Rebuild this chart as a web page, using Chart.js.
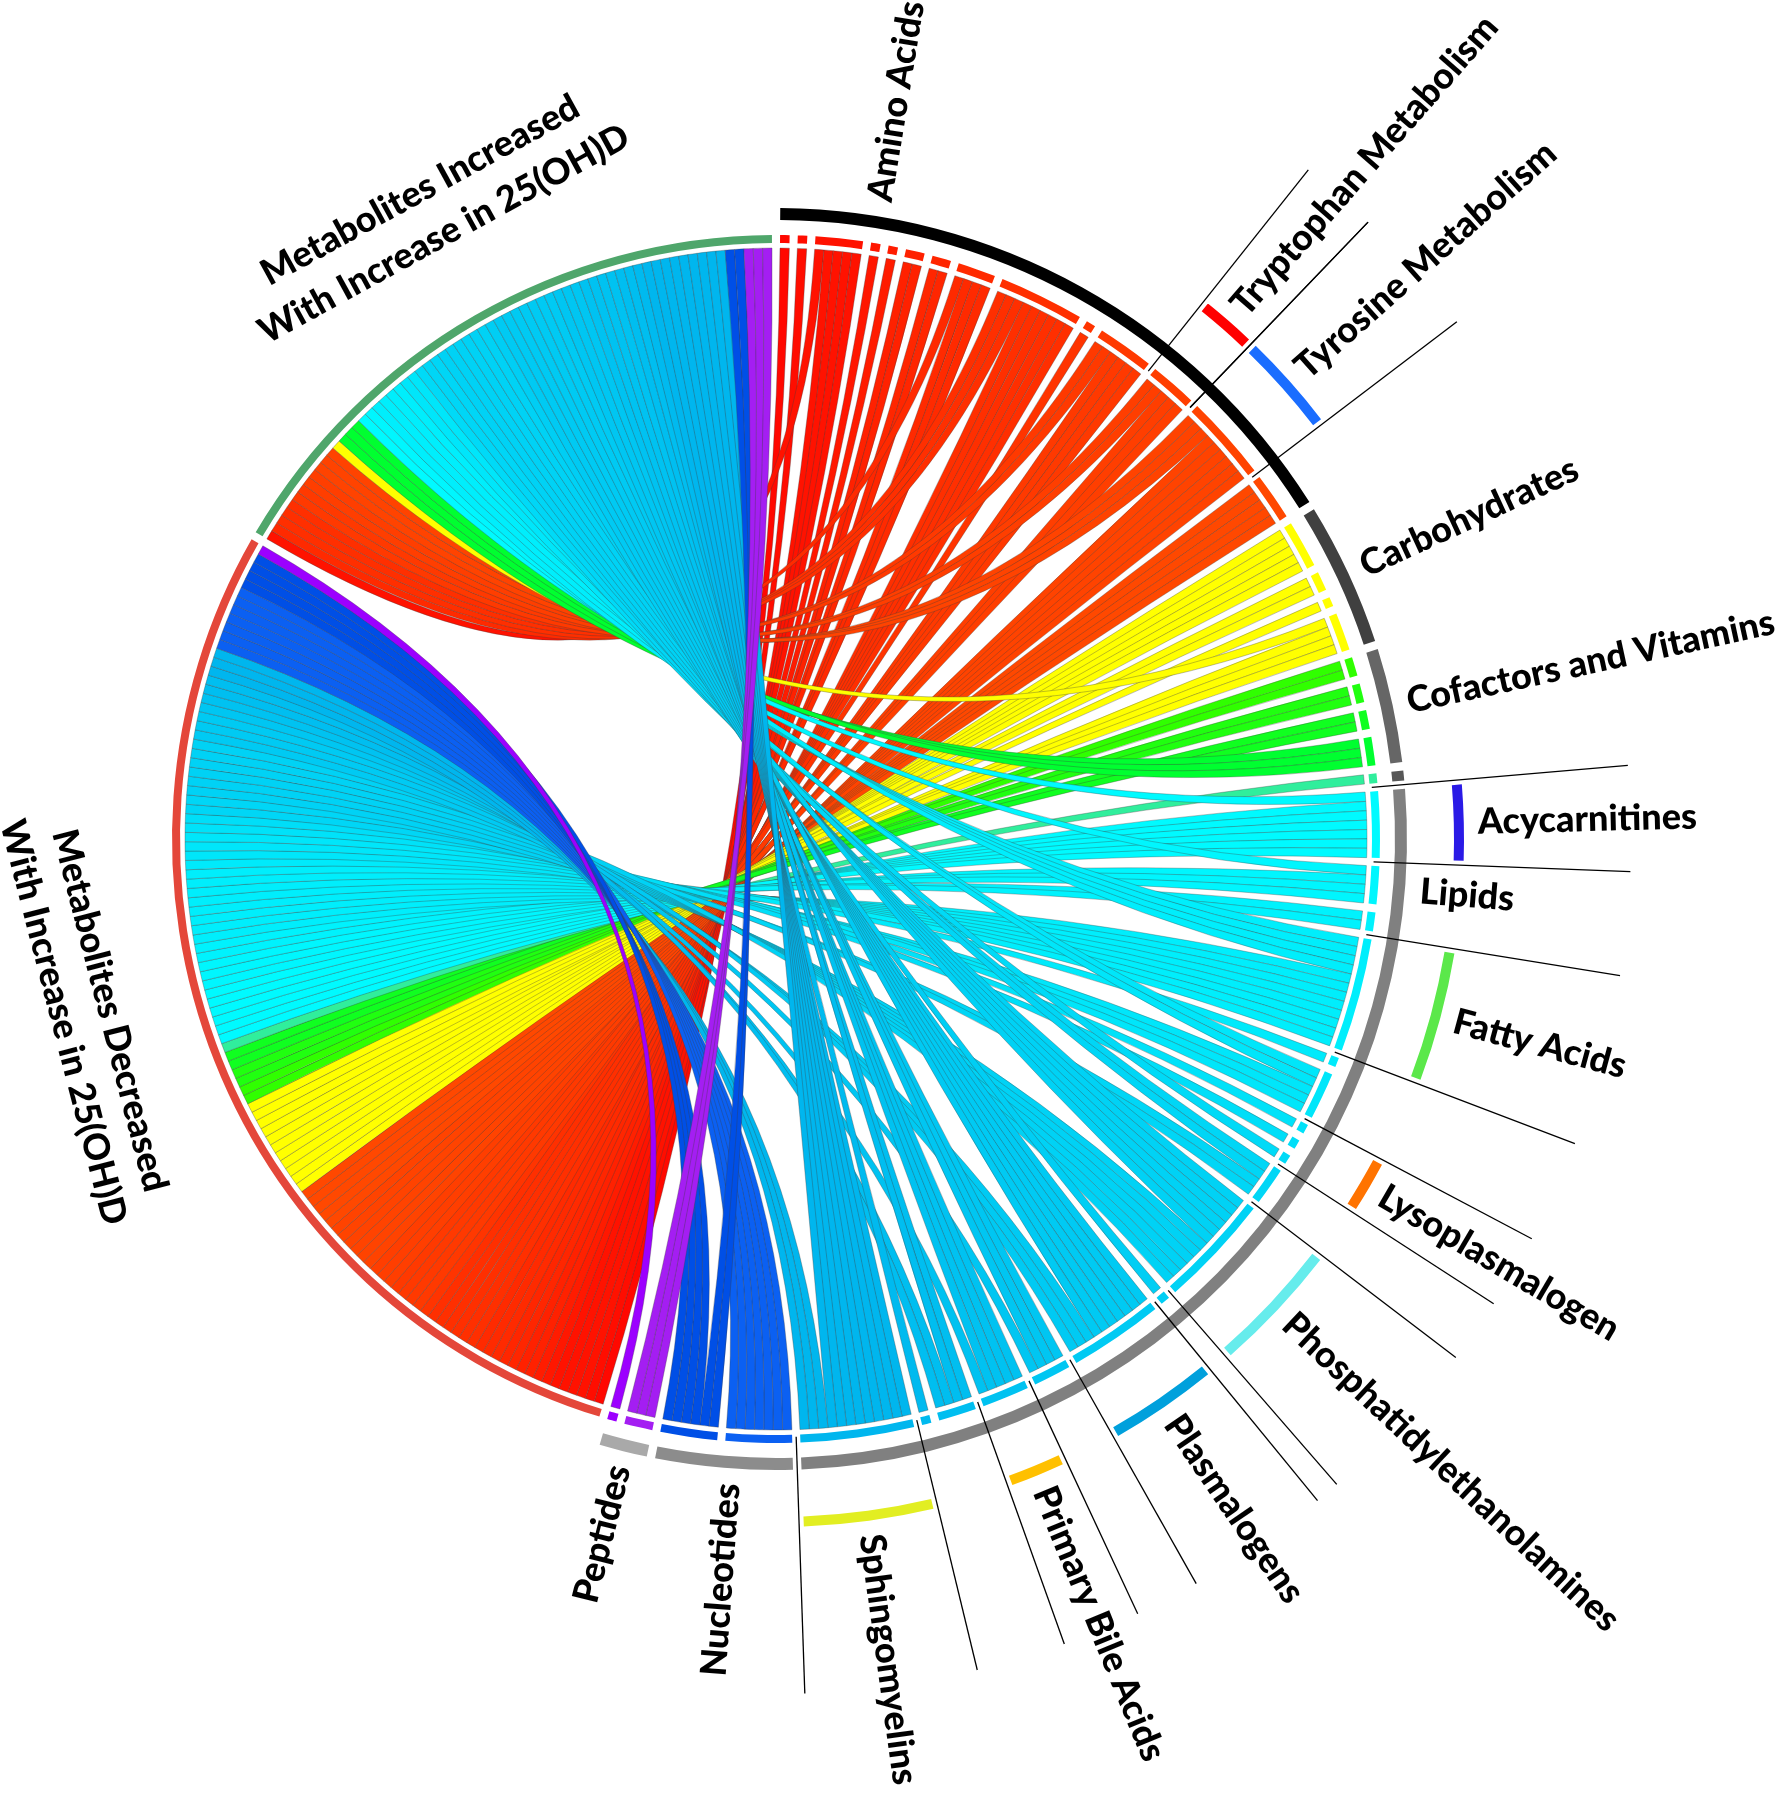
<!DOCTYPE html>
<html lang="en">
<head>
<meta charset="UTF-8">
<title>Metabolites and 25(OH)D</title>
<script src="https://cdn.jsdelivr.net/npm/chart.js@4.4.1/dist/chart.umd.min.js"></script>
<style>
  body { margin: 0; background: #fff; }
  canvas { display: block; }
</style>
</head>
<body>
<canvas id="chord" width="1782" height="1800"></canvas>
<script>
// metabolite classes on the right half, clockwise from 12 o'clock
const categories = ['Amino Acids', 'Carbohydrates', 'Cofactors and Vitamins', '', 'Lipids', 'Nucleotides', 'Peptides'];
const sources = [
  ['Metabolites Decreased', 'With Increase in 25(OH)D'],
  ['Metabolites Increased', 'With Increase in 25(OH)D']
];

// sub-pathway groups, clockwise, with the class they belong to
const groupCategory = [0, 0, 0, 0, 1, 2, 3, 4, 4, 4, 4, 4, 4, 4, 4, 4, 4, 4, 4, 4, 5, 6];
const groupLabels = ['', 'Tryptophan Metabolism', 'Tyrosine Metabolism', '', '', '', '',
  'Acycarnitines', '', 'Fatty Acids', '', 'Lysoplasmalogen', '', 'Phosphatidylethanolamines', '',
  'Plasmalogens', '', 'Primary Bile Acids', '', 'Sphingomyelins', '', ''];

// metabolites in each block of a group: decreased / increased with 25(OH)D
const groupDown = [[1, 1, 4, 1, 1, 2, 2, 3, 6, 1, 4], [3], [6], [5], [5, 2, 1, 3], [2, 2, 2, 0], [1],
  [6], [3, 2], [8], [1, 3], [1, 1, 0], [2], [6], [0], [3], [1], [1], [2, 0], [3], [7, 4], [0, 1]];
const groupUp = [[0, 0, 1, 0, 0, 0, 0, 1, 3, 0, 2], [2], [3], [0], [0, 0, 0, 1], [0, 0, 0, 3], [0],
  [1], [1, 0], [4], [0, 2], [0, 0, 1], [2], [6], [1], [7], [3], [4], [2, 1], [9], [0, 2], [3, 0]];

// ---- styling ----
const ribbonRamps = [['#ff0800', '#ff4800'], ['#ffff00', '#ffff00'], ['#30ff00', '#00ff30'], ['#30ee9c', '#30ee9c'],
  ['#00faff', '#00b6ee'], ['#0b60f2', '#004fe6'], ['#a41ef2', '#9c00ff']];
const ringColors = ['#000000', '#404040', '#666666', '#575757', '#808080', '#8c8c8c', '#a9a9a9'];
const sourceColors = ['#e4473a', '#4fa66b'];
const arcColors = {
  'Tryptophan Metabolism': '#ff0000', 'Tyrosine Metabolism': '#1a6dff', 'Acycarnitines': '#2a1ae6',
  'Fatty Acids': '#5be84a', 'Lysoplasmalogen': '#ff7300', 'Phosphatidylethanolamines': '#66ecec',
  'Plasmalogens': '#00a0dc', 'Primary Bile Acids': '#ffc000', 'Sphingomyelins': '#e2ee22'
};
const catLabelAt = [0.155, 0.5, 0.5, 0.5, 0.1, 0.46, 0.5];
const srcLabelAt = [0.57, 0.52];
const GAP = 0.85;
const R_OUT = 688, R_IN = 596;
const clear = 'rgba(0,0,0,0)';
const FONT = '900 36px Lato, "Open Sans", sans-serif';

function mix(c1, c2, t) {
  const a = parseInt(c1.slice(1), 16), b = parseInt(c2.slice(1), 16);
  const ch = s => Math.round(((a >> s) & 255) * (1 - t) + ((b >> s) & 255) * t);
  return `rgb(${ch(16)},${ch(8)},${ch(0)})`;
}

const blocks = [];
groupDown.forEach((downs, g) => downs.forEach((d, k) => {
  blocks.push({ g, cat: groupCategory[g], down: d, up: groupUp[g][k] });
}));
categories.forEach((c, ci) => {
  const bs = blocks.filter(b => b.cat === ci);
  bs.forEach((b, i) => b.color = mix(ribbonRamps[ci][0], ribbonRamps[ci][1], bs.length > 1 ? i / (bs.length - 1) : 0));
});
const totalDown = blocks.reduce((s, b) => s + b.down, 0);
const totalUp = blocks.reduce((s, b) => s + b.up, 0);
const spanOf = bs => bs.reduce((s, b) => s + b.down + b.up, 0) + GAP * (bs.length - 1);

function ring(weight) { return { data: [], backgroundColor: [], weight, borderWidth: 0 }; }
function add(r, v, c) { r.data.push(v); r.backgroundColor.push(c); return r.data.length - 1; }

const groupRing = ring(10), spaceA = ring(47), catRing = ring(12), spaceB = ring(15), track = ring(8);
add(spaceA, 1, clear);
add(spaceB, 1, clear);

blocks.forEach(b => {
  add(track, GAP / 2, clear);
  b.piece = add(track, b.down + b.up, b.color);
  add(track, GAP / 2, clear);
});
const sourcePieces = [totalDown, totalUp].map((v, i) => {
  add(track, GAP / 2, clear);
  const p = add(track, v, sourceColors[i]);
  add(track, GAP / 2, clear);
  return p;
});
const leftSpan = totalDown + totalUp + 2 * GAP;

const catPieces = categories.map((c, ci) => {
  add(catRing, GAP / 2, clear);
  const p = add(catRing, spanOf(blocks.filter(b => b.cat === ci)), ringColors[ci]);
  add(catRing, GAP / 2, clear);
  return p;
});
add(catRing, leftSpan, clear);

const groupPieces = groupLabels.map((lab, g) => {
  const lead = add(groupRing, GAP / 2, clear);
  const arc = add(groupRing, spanOf(blocks.filter(b => b.g === g)), arcColors[lab] || clear);
  const trail = add(groupRing, GAP / 2, clear);
  return { lead, arc, trail };
});
add(groupRing, leftSpan, clear);

function ribbon(ctx, cx, cy, R, a1, a2, b1, b2) {
  ctx.beginPath();
  ctx.arc(cx, cy, R, a1, a2);
  ctx.quadraticCurveTo(cx, cy, cx + R * Math.cos(b1), cy + R * Math.sin(b1));
  ctx.arc(cx, cy, R, b1, b2);
  ctx.quadraticCurveTo(cx, cy, cx + R * Math.cos(a1), cy + R * Math.sin(a1));
  ctx.closePath();
  ctx.fill();
  ctx.stroke();
}

function radialText(ctx, cx, cy, a, r, text) {
  let th = (a + Math.PI / 2) % (2 * Math.PI);
  if (th < 0) th += 2 * Math.PI;
  ctx.save();
  ctx.translate(cx, cy);
  if (th < Math.PI) {
    ctx.rotate(a);
    ctx.textAlign = 'left';
    ctx.fillText(text, r, 0);
  } else {
    ctx.rotate(a + Math.PI);
    ctx.textAlign = 'right';
    ctx.fillText(text, -r, 0);
  }
  ctx.restore();
}

const chordPlugin = {
  id: 'chord',
  afterDatasetsDraw(chart) {
    const ctx = chart.ctx;
    const trackMeta = chart.getDatasetMeta(4);
    const ref = trackMeta.data[0];
    const cx = ref.x, cy = ref.y, R = ref.innerRadius - 5;
    const dEl = trackMeta.data[sourcePieces[0]], uEl = trackMeta.data[sourcePieces[1]];
    const dStep = (dEl.endAngle - dEl.startAngle) / totalDown;
    const uStep = (uEl.endAngle - uEl.startAngle) / totalUp;
    let dPos = dEl.startAngle, uPos = uEl.startAngle;

    ctx.save();
    ctx.lineWidth = 0.6;
    ctx.strokeStyle = 'rgba(60,60,60,0.55)';
    blocks.forEach(b => {
      const el = trackMeta.data[b.piece];
      const step = (el.endAngle - el.startAngle) / (b.down + b.up);
      let a = el.startAngle;
      ctx.fillStyle = b.color;
      for (let k = 0; k < b.up; k++) {
        ribbon(ctx, cx, cy, R, a, a + step, uPos, uPos + uStep);
        a += step; uPos += uStep;
      }
      for (let k = 0; k < b.down; k++) {
        ribbon(ctx, cx, cy, R, a, a + step, dPos, dPos + dStep);
        a += step; dPos += dStep;
      }
    });
    ctx.restore();
  },
  afterDraw(chart) {
    const ctx = chart.ctx;
    const grpMeta = chart.getDatasetMeta(0), catMeta = chart.getDatasetMeta(2), trackMeta = chart.getDatasetMeta(4);
    const cx = trackMeta.data[0].x, cy = trackMeta.data[0].y;

    // leader lines around labelled sub-pathways
    ctx.save();
    ctx.strokeStyle = '#000';
    ctx.lineWidth = 1.3;
    groupLabels.forEach((lab, g) => {
      if (!lab) return;
      const a0 = grpMeta.data[groupPieces[g].lead].startAngle;
      const a1 = grpMeta.data[groupPieces[g].trail].endAngle;
      [a0, a1].forEach(a => {
        ctx.beginPath();
        ctx.moveTo(cx + 598 * Math.cos(a), cy + 598 * Math.sin(a));
        ctx.lineTo(cx + 855 * Math.cos(a), cy + 855 * Math.sin(a));
        ctx.stroke();
      });
    });
    ctx.restore();

    ctx.save();
    ctx.font = FONT;
    ctx.fillStyle = '#000';
    ctx.textBaseline = 'middle';
    categories.forEach((name, ci) => {
      if (!name) return;
      const el = catMeta.data[catPieces[ci]];
      radialText(ctx, cx, cy, el.startAngle + (el.endAngle - el.startAngle) * catLabelAt[ci], 646, name);
    });
    groupLabels.forEach((name, g) => {
      if (!name) return;
      const el = grpMeta.data[groupPieces[g].arc];
      radialText(ctx, cx, cy, (el.startAngle + el.endAngle) / 2, 702, name);
    });
    sources.forEach((lines, i) => {
      const el = trackMeta.data[sourcePieces[i]];
      const a = el.startAngle + (el.endAngle - el.startAngle) * srcLabelAt[i];
      const th = a + Math.PI / 2;
      ctx.save();
      ctx.translate(cx, cy);
      ctx.textAlign = 'center';
      if (i === 1) {
        ctx.rotate(th);
        ctx.fillText(lines[0], 0, -740);
        ctx.fillText(lines[1], 0, -690);
      } else {
        ctx.rotate(th - Math.PI);
        ctx.fillText(lines[0], 0, 688);
        ctx.fillText(lines[1], 0, 736);
      }
      ctx.restore();
    });
    ctx.restore();
  }
};

new Chart(document.getElementById('chord'), {
  type: 'doughnut',
  data: { labels: [], datasets: [groupRing, spaceA, catRing, spaceB, track] },
  options: {
    responsive: false,
    animation: false,
    events: [],
    radius: R_OUT,
    cutout: (R_IN / R_OUT * 100) + '%',
    layout: { padding: { left: 0, top: 0, right: 230, bottom: 122 } },
    plugins: { legend: { display: false }, tooltip: { enabled: false } }
  },
  plugins: [chordPlugin]
});
</script>
</body>
</html>
